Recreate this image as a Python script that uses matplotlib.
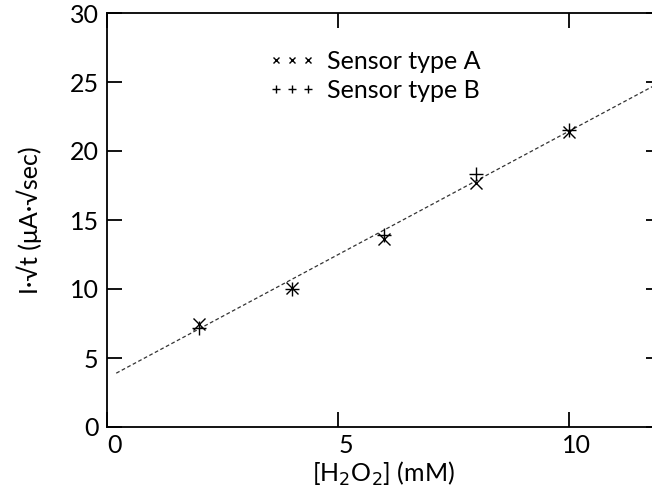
import matplotlib
matplotlib.use("Agg")
import matplotlib.pyplot as plt
import matplotlib.transforms as mtransforms

plt.rcParams['font.family'] = ['Lato', 'DejaVu Sans']

conc = [2, 4, 6, 8, 10]
sensor_a = [7.5, 10.1, 13.6, 17.7, 21.4]
sensor_b = [7.2, 10.0, 13.9, 18.3, 21.5]
fit_x = [0.2, 12.0]
fit_y = [3.9, 25.0]
xticks = [0, 5, 10]
yticks = [0, 5, 10, 15, 20, 25, 30]

fig = plt.figure(figsize=(6.52, 4.97), dpi=100)
ax = fig.add_axes([107/652, 1-427/497, (661-107)/652, (427-13)/497])

ax.plot(fit_x, fit_y, linestyle=(0, (3, 2)), color='#333333', linewidth=0.9)
ax.plot(conc, sensor_a, linestyle='none', marker='x', markersize=9,
        markeredgewidth=1.0, color='black', label='Sensor type A')
ax.plot(conc, sensor_b, linestyle='none', marker='+', markersize=10,
        markeredgewidth=1.0, color='black', label='Sensor type B')

ax.set_xlim(0, 12)
ax.set_ylim(0, 30)
ax.set_xticks(xticks)
ax.set_yticks(yticks)
ax.tick_params(direction='in', length=11, width=1.3, top=True, right=True,
               labelsize=18, colors='black')
ax.tick_params(axis='x', pad=5)
ax.tick_params(axis='y', pad=6)
for lab in ax.get_xticklabels():
    lab.set_transform(lab.get_transform() + mtransforms.ScaledTranslation(8/100, 0, fig.dpi_scale_trans))
for sp in ax.spines.values():
    sp.set_linewidth(1.3)

ax.set_xlabel('[H$_2$O$_2$] (mM)', fontsize=18, labelpad=2)
ax.set_ylabel('I·√t (μA·√sec)', fontsize=18, labelpad=20)

leg = ax.legend(loc='upper left', bbox_to_anchor=(0.25, 0.965), frameon=False,
                numpoints=3, markerscale=0.55, fontsize=18, handlelength=1.9,
                handletextpad=0.45, labelspacing=0.25)

fig.savefig('out.png', dpi=100)
